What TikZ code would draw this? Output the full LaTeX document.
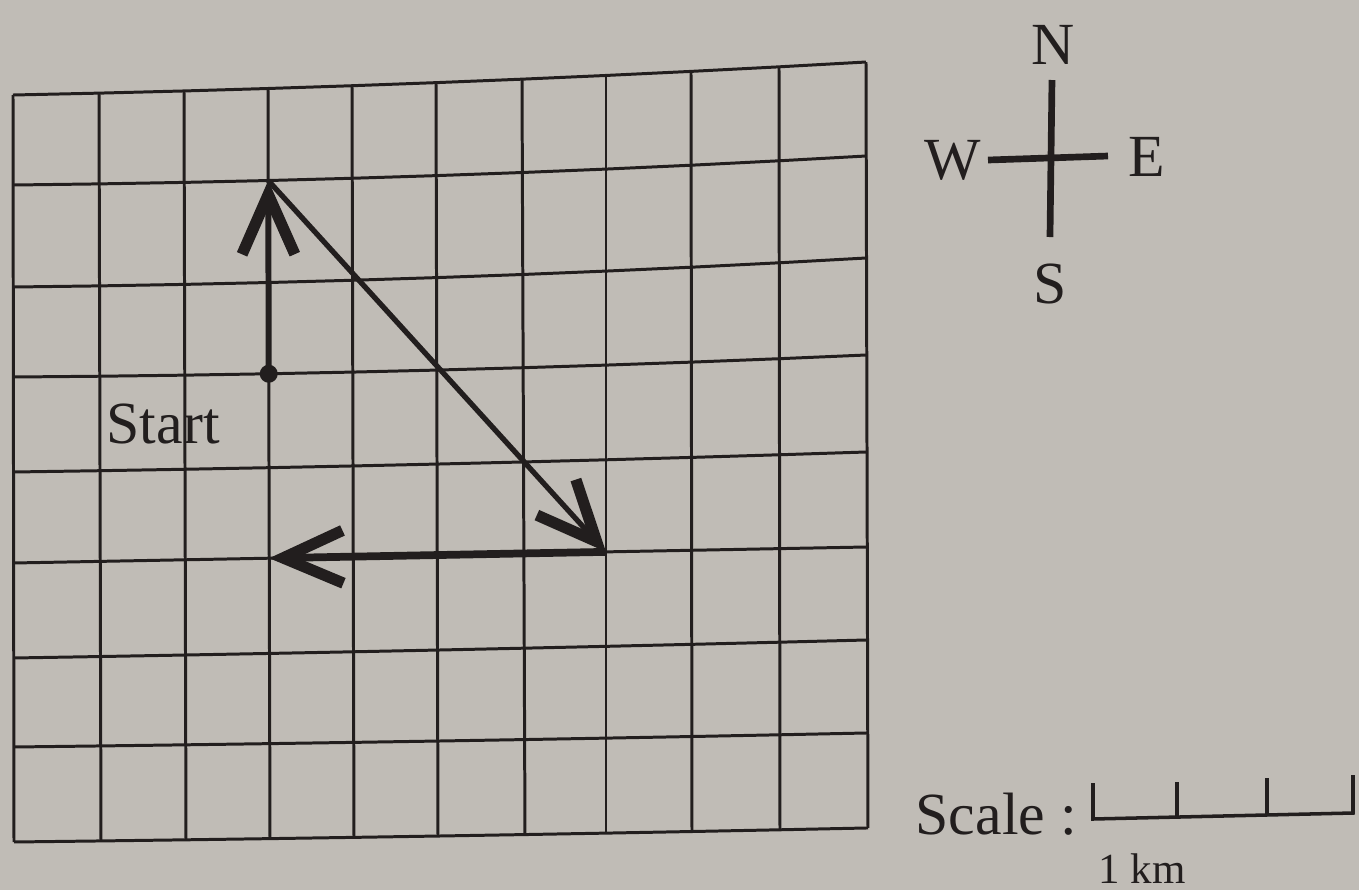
\documentclass[tikz,border=0pt]{standalone}
\usepackage{fontspec}
\setmainfont{Liberation Serif}
\usetikzlibrary{arrows.meta,calc}
\definecolor{paper}{RGB}{192,188,182}
\definecolor{ink}{RGB}{34,30,30}
\tikzset{
  gridline/.style={draw=ink, line width=0.85pt, line join=round},
  vecarrow/.style={draw=ink, -{Straight Barb[length=17pt,width=15pt,line width=3.2pt]}},
  lbl/.style={inner sep=0pt, text=ink, font=\fontsize{17}{20}\selectfont},
  dotnode/.style={circle, fill=ink, inner sep=0pt, minimum size=0.18cm},
  compassbar/.style={draw=ink, line width=1.9pt},
  scalebar/.style={draw=ink, line width=1pt},
}
\begin{document}
\begin{tikzpicture}[x=0.01cm,y=-0.01cm]
\fill[paper] (0,0) rectangle (1359,890);
\useasboundingbox (0,0) rectangle (1359,890);

\def\xT{{13,99,184,268,352,436,522,606,691,779,866}}
\def\xB{{14,101,186,270,354,438,525,606,692,780,868}}
\def\yL{{95,185,287,377,472,563,658,747,842}}
\def\yR{{62,156,258,355,452,547,640,733,828}}
\def\bw{{4,5,5,4,2,0,1,1,1}}

\foreach \i in {0,...,8}{
  \foreach \j in {0,...,10}{
    \pgfmathsetmacro\gx{\xT[\j]+(\xB[\j]-\xT[\j])*\i/8}
    \pgfmathsetmacro\gt{(\gx-13)/853}
    \pgfmathsetmacro\gy{\yL[\i]+(\yR[\i]-\yL[\i])*\gt+4*\bw[\i]*\gt*(1-\gt)}
    \coordinate (g-\i-\j) at (\gx,\gy);
  }
}

% grid
\foreach \i in {0,...,8}{
  \draw[gridline] (g-\i-0) \foreach \j in {1,...,10}{ -- (g-\i-\j)};
}
\foreach \j in {0,...,10}{
  \draw[gridline] (g-0-\j) -- (g-8-\j);
}

% path
\node[dotnode] (start) at (g-3-3) {};
\draw[vecarrow, line width=1.7pt] (start.center) -- (g-1-3);
\draw[vecarrow, line width=1.5pt] (g-1-3) -- (g-5-7);
\draw[vecarrow, line width=2.2pt] (g-5-7) -- (g-5-3);
\node[lbl, anchor=base west] (startlbl) at (106,443) {Start};

% compass
\coordinate (cN) at (1052,80);
\coordinate (cS) at (1050,237);
\coordinate (cW) at (988,160);
\coordinate (cE) at (1108,156);
\draw[compassbar] (cN) -- (cS);
\draw[compassbar] (cW) -- (cE);
\node[lbl] (N) at (1053,45) {N};
\node[lbl] (W) at (953,160) {W};
\node[lbl] (E) at (1147,157) {E};
\node[lbl] (S) at (1050,284) {S};

% scale
\node[lbl, anchor=base west] (scalelbl) at (915,834) {Scale :};
\coordinate (s0t) at (1093,783);
\coordinate (s0b) at (1093,819);
\coordinate (s3b) at (1353,813);
\coordinate (s3t) at (1353,775);
\coordinate (s1t) at (1177,782);
\coordinate (s1b) at (1177,817);
\coordinate (s2t) at (1267,778);
\coordinate (s2b) at (1267,815);
\draw[scalebar] (s0t) -- (s0b) -- (s3b) -- (s3t);
\draw[scalebar] (s1t) -- (s1b);
\draw[scalebar] (s2t) -- (s2b);
\node[lbl, font=\fontsize{12.2}{14}\selectfont, anchor=base west] (km) at (1098,883) {1 km};
\end{tikzpicture}
\end{document}
